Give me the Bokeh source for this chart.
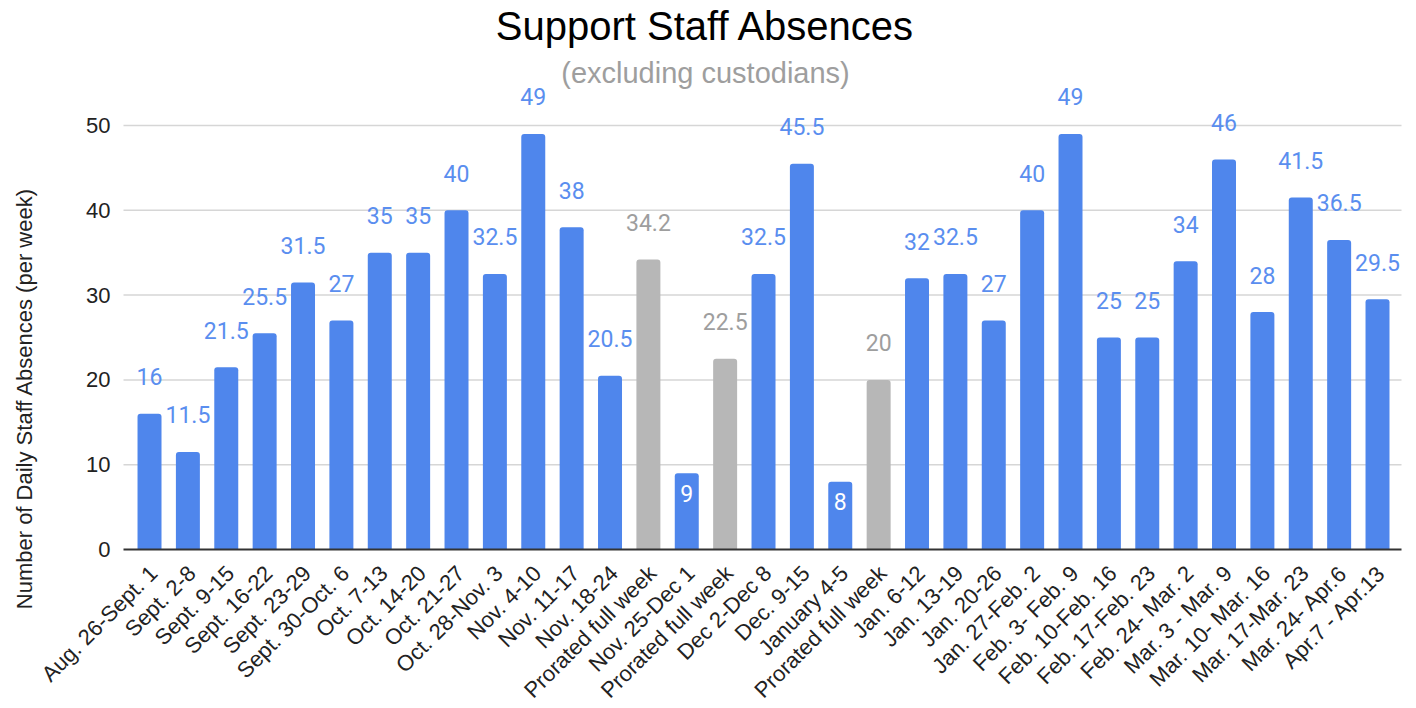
import math
from bokeh.plotting import figure
from bokeh.models import ColumnDataSource, Range1d, Label
from bokeh.core.properties import value
from bokeh.embed import file_html
from bokeh.resources import INLINE

weeks = [
    "Aug. 26-Sept. 1", "Sept. 2-8", "Sept. 9-15", "Sept. 16-22", "Sept. 23-29",
    "Sept. 30-Oct. 6", "Oct. 7-13", "Oct. 14-20", "Oct. 21-27", "Oct. 28-Nov. 3",
    "Nov. 4-10", "Nov. 11-17", "Nov. 18-24", "Prorated full week", "Nov. 25-Dec 1",
    "Prorated full week", "Dec 2-Dec 8", "Dec. 9-15", "January 4-5", "Prorated full week",
    "Jan. 6-12", "Jan. 13-19", "Jan. 20-26", "Jan. 27-Feb. 2", "Feb. 3- Feb. 9",
    "Feb. 10-Feb. 16", "Feb. 17-Feb. 23", "Feb. 24- Mar. 2", "Mar. 3 - Mar. 9",
    "Mar. 10- Mar. 16", "Mar. 17-Mar. 23", "Mar. 24- Apr.6", "Apr.7 - Apr.13",
]
absences = [
    16, 11.5, 21.5, 25.5, 31.5, 27, 35, 35, 40, 32.5,
    49, 38, 20.5, 34.2, 9, 22.5, 32.5, 45.5, 8, 20,
    32, 32.5, 27, 40, 49, 25, 25, 34, 46, 28,
    41.5, 36.5, 29.5,
]
y_ticks = [0, 10, 20, 30, 40, 50]
y_tick_labels = ["0", "10", "20", "30", "40", "50"]
title_text = "Support Staff Absences"
subtitle_text = "(excluding custodians)"
y_title_text = "Number of Daily Staff Absences (per week)"

BLUE = "#4f86ec"
BLUE_TXT = "#5a8eef"
GRAY = "#b7b7b7"
GRAY_TXT = "#9e9e9e"
AX_FONT = "Liberation Sans"
AX_COLOR = "#222222"

# Layout in canvas pixels. The frame covers the whole canvas so that every
# text (titles, axis texts) is drawn in data space and never clipped.
W, H = 1416, 708
PLOT_LEFT, PLOT_RIGHT = 123, 1401     # plot-area edges
ZERO_PX, FIFTY_PX = 549, 125          # pixel rows of y=0 and y=50
X0, X1 = -0.678, 32.625               # category span across the plot area
ppu_x = (PLOT_RIGHT - PLOT_LEFT) / (X1 - X0)
ppu_y = (ZERO_PX - FIFTY_PX) / 50.0
X_START = X0 - PLOT_LEFT / ppu_x
X_END = X1 + (W - PLOT_RIGHT) / ppu_x
Y_START = -(H - ZERO_PX) / ppu_y
Y_END = ZERO_PX / ppu_y

def sx_to_x(sx):
    return X_START + sx / ppu_x
def sy_to_y(sy):
    return Y_END - sy / ppu_y

xs = list(range(len(weeks)))
is_pro = [w.startswith("Prorated") for w in weeks]
bar_colors = [GRAY if g else BLUE for g in is_pro]
txt_colors = [GRAY_TXT if g else BLUE_TXT for g in is_pro]
labels = [f"{v:g}" for v in absences]

src = ColumnDataSource(dict(x=xs, y=absences, color=bar_colors))
out_idx = [i for i, v in enumerate(absences) if v >= 10]
in_idx = [i for i, v in enumerate(absences) if v < 10]
src_out = ColumnDataSource(dict(
    x=[xs[i] for i in out_idx], y=[absences[i] for i in out_idx],
    label=[labels[i] for i in out_idx], color=[txt_colors[i] for i in out_idx]))
src_in = ColumnDataSource(dict(
    x=[xs[i] for i in in_idx], y=[absences[i] for i in in_idx],
    label=[labels[i] for i in in_idx]))
src_x = ColumnDataSource(dict(x=xs, y=[0] * len(xs), label=weeks))

p = figure(
    width=W, height=H, output_backend="svg", toolbar_location=None,
    x_range=Range1d(X_START, X_END), y_range=Range1d(Y_START, Y_END),
    min_border=0,
)
p.outline_line_color = None
p.background_fill_color = "white"
p.border_fill_color = "white"
p.xaxis.visible = False
p.yaxis.visible = False
p.xgrid.visible = False
p.ygrid.visible = False

# horizontal gridlines (plot area only)
grid_y = [t for t in y_ticks if t > 0]
p.segment(x0=[X0] * len(grid_y), x1=[X1] * len(grid_y), y0=grid_y, y1=grid_y,
          line_color="#d6d6d6", line_width=1.5)

p.vbar(x="x", top="y", width=0.625, fill_color="color", line_color=None,
       source=src, border_radius=(3, 3, 0, 0))

# baseline (x axis line)
p.segment(x0=[X0], x1=[X1], y0=[0], y1=[0], line_color="#333333", line_width=2)

# value labels
p.text(x="x", y="y", text="label", source=src_out, text_align="center",
       text_baseline="middle", y_offset=-37, text_color="color",
       text_font=value("Roboto"), text_font_size="23px")
p.text(x="x", y="y", text="label", source=src_in, text_align="center",
       text_baseline="middle", y_offset=20, text_color="white",
       text_font=value("Roboto"), text_font_size="23px")

# y tick labels
p.text(x=[X0] * len(y_ticks), y=y_ticks, text=y_tick_labels, x_offset=-13,
       text_align="right", text_baseline="middle", text_color=AX_COLOR,
       text_font=value(AX_FONT), text_font_size="22px")

# x tick labels, rotated 45 degrees and ending at each bar
p.text(x="x", y="y", text="label", source=src_x, angle=math.pi / 4,
       x_offset=4, y_offset=20, text_align="right", text_baseline="middle",
       text_color=AX_COLOR, text_font=value(AX_FONT), text_font_size="22px")

# titles
p.add_layout(Label(x=sx_to_x(705), y=sy_to_y(25), text=title_text,
                   text_align="center", text_baseline="middle",
                   text_font=AX_FONT, text_font_size="40px", text_color="#000000"))
p.add_layout(Label(x=sx_to_x(705), y=sy_to_y(72), text=subtitle_text,
                   text_align="center", text_baseline="middle",
                   text_font=AX_FONT, text_font_size="29px", text_color=GRAY_TXT))
p.add_layout(Label(x=sx_to_x(24), y=sy_to_y(398), text=y_title_text, angle=math.pi / 2,
                   text_align="center", text_baseline="middle",
                   text_font=AX_FONT, text_font_size="22px", text_color=AX_COLOR))

open("out.html", "w").write(file_html(p, INLINE))
